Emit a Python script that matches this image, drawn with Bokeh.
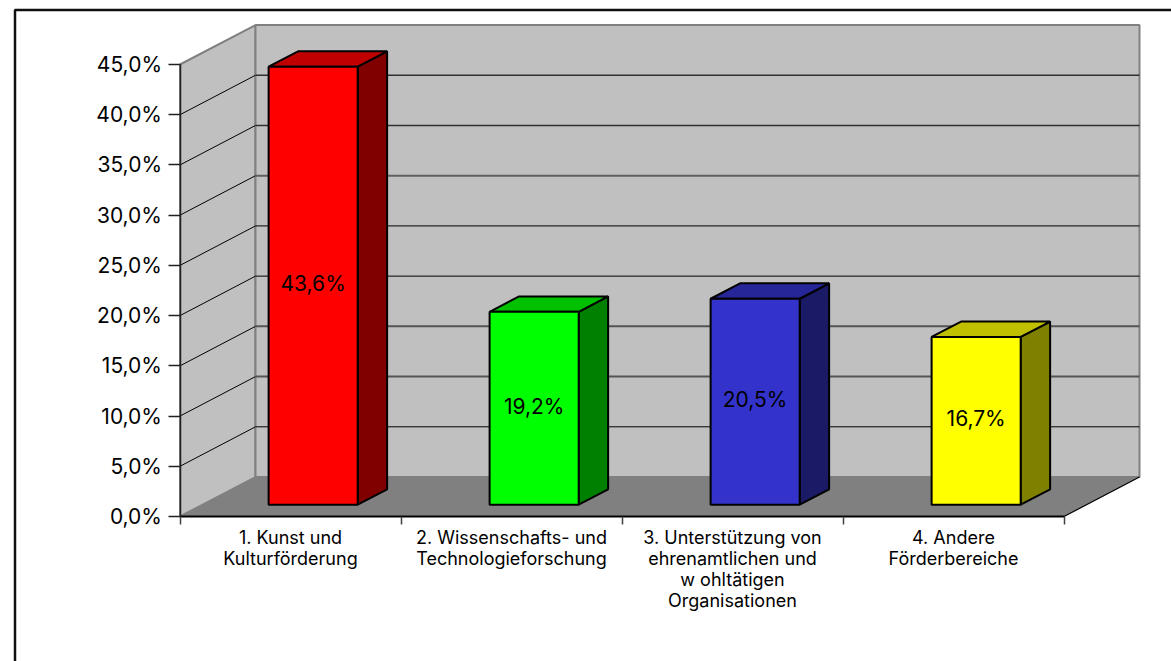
from bokeh.plotting import figure
from bokeh.models import FixedTicker, Range1d
from bokeh.embed import file_html
from bokeh.resources import INLINE

categories = ["1. Kunst und\nKulturförderung",
              "2. Wissenschafts- und\nTechnologieforschung",
              "3. Unterstützung von\nehrenamtlichen und\nw ohltätigen\nOrganisationen",
              "4. Andere\nFörderbereiche"]
values = [43.6, 19.2, 20.5, 16.7]
value_labels = ["43,6%", "19,2%", "20,5%", "16,7%"]
y_ticks = [0, 5, 10, 15, 20, 25, 30, 35, 40, 45]
y_tick_labels = ["0,0%", "5,0%", "10,0%", "15,0%", "20,0%", "25,0%", "30,0%", "35,0%", "40,0%", "45,0%"]
front_colors = ["#ff0000", "#00ff00", "#3333cc", "#ffff00"]
side_colors = ["#800000", "#008000", "#1a1a66", "#808000"]
top_colors = ["#c00000", "#00c000", "#262699", "#c0c000"]
# back-wall gridline appearance, per tick
grid_style = {5: ("#000000", 1), 10: ("#555555", 2), 15: ("#555555", 2), 20: ("#000000", 1),
              25: ("#000000", 1), 30: ("#606060", 2), 35: ("#303030", 1.5), 40: ("#303030", 1.5)}

W, H = 1171, 661
X0, Y0 = 179.5, 516            # pixel position of the axes' origin
PX_X = 221.0                   # pixels per category
PX_Y = 452 / 45                # pixels per percentage point
DX, DY = 0.3416, 3.93          # full chart depth in axis units
D0, D1 = 0.30, 0.69            # bar depth span
BW = 0.403                     # bar width in category units
N = len(categories)
YMAX = y_ticks[-1]
FONT = "Inter"

def pj(c, v, d):
    return c + d * DX, v + d * DY

p = figure(width=W, height=H, output_backend="svg", toolbar_location=None,
           x_range=Range1d(-X0 / PX_X, (W - X0) / PX_X),
           y_range=Range1d(-(H - Y0) / PX_Y, Y0 / PX_Y),
           min_border=0, background_fill_color="white", border_fill_color="white",
           outline_line_color=None)
p.grid.visible = False

def poly(pts, fill, line, lw=2):
    xs, ys = zip(*pts)
    p.patch(list(xs), list(ys), fill_color=fill, line_color=line, line_width=lw)

# outer chart frame, running off the page at right and bottom
bx, by = (14.5 - X0) / PX_X, (Y0 - 9.5) / PX_Y
p.line([bx, bx, (W + 20 - X0) / PX_X], [-(H + 20 - Y0) / PX_Y, by, by],
       line_color="#101010", line_width=2.5)

# walls and floor
poly([pj(0, 0, 0), pj(0, 0, 1), pj(0, YMAX, 1), pj(0, YMAX, 0)], "#c0c0c0", "#808080")
poly([pj(0, 0, 1), pj(N, 0, 1), pj(N, YMAX, 1), pj(0, YMAX, 1)], "#c0c0c0", "#808080")
poly([pj(0, 0, 0), pj(N, 0, 0), pj(N, 0, 1), pj(0, 0, 1)], "#808080", None)

# gridlines
for v in y_ticks[1:-1]:
    a, b, c = pj(0, v, 0), pj(0, v, 1), pj(N, v, 1)
    color, lw = grid_style[v]
    p.line([a[0], b[0]], [a[1], b[1]], line_color="#000000", line_width=1)
    p.line([b[0], c[0]], [b[1], c[1]], line_color=color, line_width=lw)

a, b = pj(N, 0, 0), pj(N, 0, 1)
p.line([a[0], b[0]], [a[1], b[1]], line_color="#000000", line_width=1.2)

# bars
for i, v in enumerate(values):
    l, r = i + 0.5 - BW / 2, i + 0.5 + BW / 2
    poly([pj(r, 0, D0), pj(r, 0, D1), pj(r, v, D1), pj(r, v, D0)], side_colors[i], "#000000")
    poly([pj(l, v, D0), pj(r, v, D0), pj(r, v, D1), pj(l, v, D1)], top_colors[i], "#000000")
    poly([pj(l, 0, D0), pj(r, 0, D0), pj(r, v, D0), pj(l, v, D0)], front_colors[i], "#000000")

tx, ty = zip(*[pj(i + 0.5, v / 2, D0) for i, v in enumerate(values)])
p.text(list(tx), list(ty), text=value_labels, text_align="center", text_baseline="middle",
       y_offset=-2, text_color="#000000", text_font_size="21px", text_font={"value": FONT})

# axes
ya = p.yaxis[0]
ya.fixed_location = 0
ya.ticker = FixedTicker(ticks=y_ticks)
ya.major_label_overrides = dict(zip(y_ticks, y_tick_labels))
ya.bounds = (0, YMAX)
ya.major_tick_out = 12
ya.major_tick_in = 0
ya.minor_tick_out = 0
ya.minor_tick_in = 0
ya.major_tick_line_width = 1.5
ya.major_tick_line_color = "#202020"
ya.axis_line_color = "#202020"
ya.axis_line_width = 1.5
ya.major_label_standoff = 6
ya.major_label_text_font = FONT
ya.major_label_text_font_size = "21px"
ya.major_label_text_color = "#000000"

xa = p.xaxis[0]
xa.fixed_location = 0
label_pos = [i + 0.5 for i in range(N)]
xa.ticker = FixedTicker(ticks=label_pos, minor_ticks=list(range(N + 1)))
xa.major_label_overrides = dict(zip(label_pos, categories))
xa.bounds = (0, N)
xa.major_tick_out = 0
xa.major_tick_in = 0
xa.minor_tick_out = 8
xa.minor_tick_in = 0
xa.minor_tick_line_color = "#404040"
xa.minor_tick_line_width = 1.5
xa.axis_line_color = "#000000"
xa.axis_line_width = 2
xa.major_label_standoff = 2
xa.major_label_text_font = FONT
xa.major_label_text_font_size = "18px"
xa.major_label_text_line_height = 1.0
xa.major_label_text_color = "#000000"

open("out.html", "w").write(file_html(p, INLINE))
